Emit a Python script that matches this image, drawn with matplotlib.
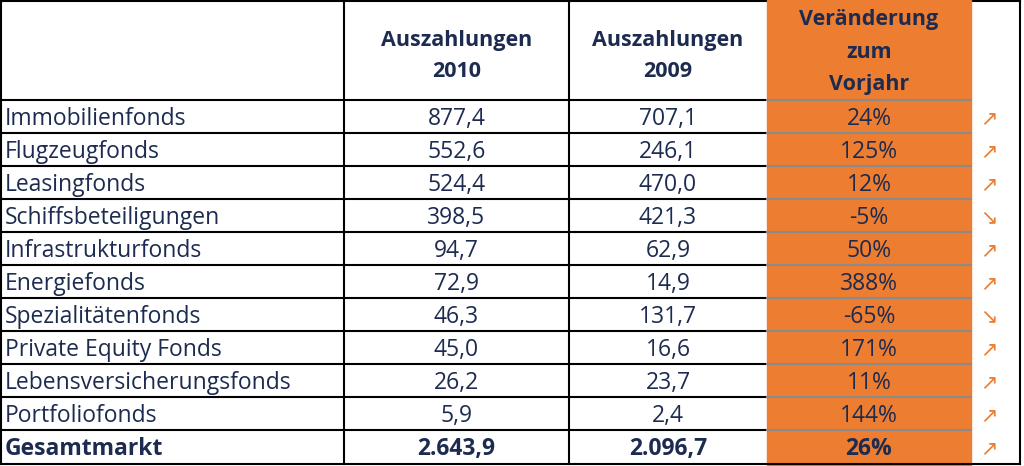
import matplotlib.pyplot as plt
from matplotlib.patches import Rectangle

# table content
fonds = ['Immobilienfonds', 'Flugzeugfonds', 'Leasingfonds', 'Schiffsbeteiligungen',
         'Infrastrukturfonds', 'Energiefonds', 'Spezialitätenfonds', 'Private Equity Fonds',
         'Lebensversicherungsfonds', 'Portfoliofonds', 'Gesamtmarkt']
ausz_2010 = [877.4, 552.6, 524.4, 398.5, 94.7, 72.9, 46.3, 45.0, 26.2, 5.9, 2643.9]
ausz_2009 = [707.1, 246.1, 470.0, 421.3, 62.9, 14.9, 131.7, 16.6, 23.7, 2.4, 2096.7]
veraenderung = [24, 125, 12, -5, 50, 388, -65, 171, 11, 144, 26]
headers = ['Auszahlungen\n2010', 'Auszahlungen\n2009', 'Veränderung\nzum\nVorjahr']

NAVY = '#1c2b4f'
ORANGE = '#ED7D31'
FONT = 'Open Sans'

# layout in pixel units
W, H = 1024, 466
col_edges = [1, 344, 569, 767, 971, 1020]
head_bottom = 100
row_h = 33


def de_num(v):
    s = '{:,.1f}'.format(v)
    return s.replace(',', 'X').replace('.', ',').replace('X', '.')


fig = plt.figure(figsize=(W / 100, H / 100), dpi=100)
ax = fig.add_axes([0, 0, 1, 1])
ax.set_xlim(0, W)
ax.set_ylim(H, 0)
ax.axis('off')

lw = 1.5
# top border
ax.plot([0, col_edges[-1]], [1, 1], color='black', lw=lw)
# orange column
ax.add_patch(Rectangle((col_edges[3], 0), col_edges[4] - col_edges[3], H, color=ORANGE, zorder=2))

# horizontal lines
n = len(fonds)
for i in range(n):
    y = head_bottom + i * row_h
    ax.plot([0, col_edges[3]], [y, y], color='black', lw=lw, zorder=3)
    ax.plot([col_edges[3], col_edges[4]], [y, y], color='#8a8a8a', lw=lw, zorder=3)
y_bot = head_bottom + n * row_h + 1
ax.plot([0, col_edges[-1]], [y_bot, y_bot], color='black', lw=lw, zorder=3)

# vertical lines
for x in [col_edges[0], col_edges[1], col_edges[2], col_edges[5]]:
    ax.plot([x, x], [0, y_bot], color='black', lw=lw, zorder=3)

# headers
hs = 15.5
ax.text((col_edges[1] + col_edges[2]) / 2, 56, headers[0], ha='center', va='center',
        fontsize=hs, fontweight='bold', color=NAVY, family=FONT, linespacing=1.6, zorder=4)
ax.text((col_edges[2] + col_edges[3]) / 2, 56, headers[1], ha='center', va='center',
        fontsize=hs, fontweight='bold', color=NAVY, family=FONT, linespacing=1.6, zorder=4)
ax.text((col_edges[3] + col_edges[4]) / 2, 52, headers[2], ha='center', va='center',
        fontsize=hs, fontweight='bold', color=NAVY, family=FONT, linespacing=1.72, zorder=4)

# rows
fs = 16.5
for i, name in enumerate(fonds):
    yc = head_bottom + i * row_h + row_h / 2 + 2.5
    last = (i == n - 1)
    fw = 'bold' if last else 'normal'
    ax.text(5, yc, name, ha='left', va='center', fontsize=fs, fontweight=fw,
            color=NAVY, family=FONT, zorder=4)
    ax.text((col_edges[1] + col_edges[2]) / 2, yc, de_num(ausz_2010[i]), ha='center', va='center',
            fontsize=fs, fontweight=fw, color=NAVY, family=FONT, zorder=4)
    ax.text((col_edges[2] + col_edges[3]) / 2, yc, de_num(ausz_2009[i]), ha='center', va='center',
            fontsize=fs, fontweight=fw, color=NAVY, family=FONT, zorder=4)
    ax.text((col_edges[3] + col_edges[4]) / 2, yc, '{}%'.format(veraenderung[i]), ha='center',
            va='center', fontsize=fs, fontweight=fw, color=NAVY, family=FONT, zorder=4)
    arrow = '↗' if veraenderung[i] >= 0 else '↘'
    ax.text(989, yc - 1, arrow, ha='center', va='center', fontsize=15, color=ORANGE,
            family='DejaVu Sans', zorder=4)

fig.savefig('out.png', dpi=100)
